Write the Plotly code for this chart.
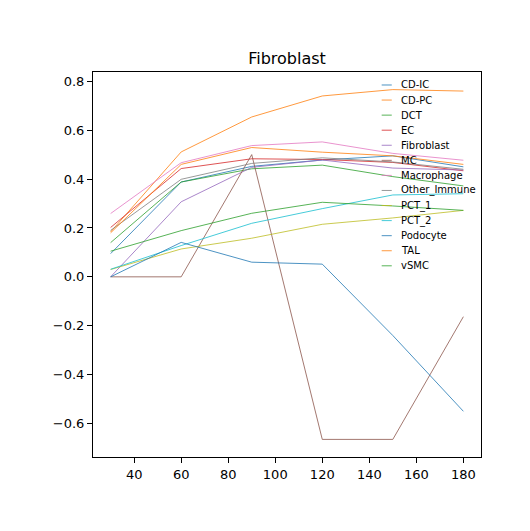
import plotly.graph_objects as go

# time points
x_vals = [30, 60, 90, 120, 150, 180]

# one series per cell type
cd_ic = [0.095, 0.388, 0.452, 0.478, 0.495, 0.45]
cd_pc = [0.184, 0.511, 0.654, 0.74, 0.766, 0.76]
dct = [0.14, 0.388, 0.442, 0.457, 0.41, 0.372]
ec = [0.202, 0.443, 0.483, 0.48, 0.468, 0.434]
fibroblast = [0.0, 0.307, 0.448, 0.478, 0.445, 0.437]
mc = [0.0, 0.0, 0.50, -0.665, -0.665, -0.163]
macrophage = [0.259, 0.467, 0.537, 0.552, 0.505, 0.477]
other_immune = [0.19, 0.399, 0.464, 0.487, 0.47, 0.44]
pct_1 = [0.03, 0.114, 0.158, 0.215, 0.241, 0.272]
pct_2 = [0.031, 0.128, 0.219, 0.279, 0.335, 0.34]
podocyte = [0.0, 0.141, 0.06, 0.052, -0.24, -0.55]
tal = [0.18, 0.46, 0.529, 0.51, 0.495, 0.46]
vsmc = [0.105, 0.189, 0.26, 0.305, 0.29, 0.272]

names = ["CD-IC", "CD-PC", "DCT", "EC", "Fibroblast", "MC", "Macrophage",
         "Other_Immune", "PCT_1", "PCT_2", "Podocyte", "TAL", "vSMC"]
series = [cd_ic, cd_pc, dct, ec, fibroblast, mc, macrophage,
          other_immune, pct_1, pct_2, podocyte, tal, vsmc]

# matplotlib tab10 cycle
tab10 = ["#1f77b4", "#ff7f0e", "#2ca02c", "#d62728", "#9467bd",
         "#8c564b", "#e377c2", "#7f7f7f", "#bcbd22", "#17becf"]

fig = go.Figure()
for i, (name, ys) in enumerate(zip(names, series)):
    fig.add_trace(go.Scatter(
        x=x_vals, y=ys, name=name, mode="lines",
        line=dict(color=tab10[i % 10], width=0.8),
        showlegend=False
    ))

# compact legend like matplotlib's (plotly's own legend rows are too tall)
plot_h = 385.3
row = 15.08 / plot_h  # row spacing in paper units
top = (457.3 - 85) / plot_h  # centre of first row
for i, name in enumerate(names):
    yy = top - i * row
    fig.add_shape(type="line", xref="paper", yref="paper",
                  x0=0.744, x1=0.770, y0=yy, y1=yy,
                  line=dict(color=tab10[i % 10], width=0.8))
    fig.add_annotation(x=0.788, y=yy, xref="paper", yref="paper",
                       text=name, showarrow=False, xanchor="left",
                       yanchor="middle", font=dict(size=10, color="black"))

axis_style = dict(
    showgrid=False, zeroline=False, showline=True, linecolor="black",
    linewidth=1, mirror=True, ticks="outside", ticklen=5, tickwidth=1,
    tickcolor="black", tickfont=dict(size=13, color="black"),
    automargin=False
)

fig.update_layout(
    width=530, height=531,
    margin=dict(l=85, r=57, t=64, b=82),
    paper_bgcolor="white", plot_bgcolor="white",
    font=dict(family="DejaVu Sans", color="black"),
    title=dict(text="Fibroblast", x=0.5, xref="paper", xanchor="center",
               y=1 - 50 / 531, yref="container", yanchor="middle",
               font=dict(size=16)),
    xaxis=dict(range=[22.5, 187.5], tickvals=[40, 60, 80, 100, 120, 140, 160, 180],
               **axis_style),
    yaxis=dict(range=[-0.737, 0.838], tickvals=[-0.6, -0.4, -0.2, 0.0, 0.2, 0.4, 0.6, 0.8],
               tickformat=".1f", **axis_style),
    showlegend=False,
)

fig.write_html("out.html")
